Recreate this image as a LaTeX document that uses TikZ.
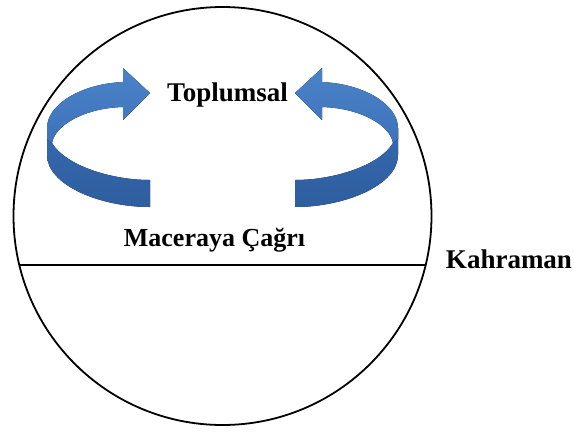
\documentclass[tikz,border=0pt]{standalone}
\usepackage{fontspec}
\setmainfont{Liberation Serif}
\begin{document}
\begin{tikzpicture}[x=1pt,y=-1pt,
  label/.style={font=\bfseries\fontsize{27}{30}\selectfont, inner sep=0pt, anchor=base, text=black},
  rim/.style={draw=black, line width=1.8pt}]
\definecolor{bandhi}{HTML}{4A82C8}
\definecolor{bandmid}{HTML}{3D73BA}
\definecolor{bandlo}{HTML}{3568AE}
\definecolor{banddk}{HTML}{2E5E9F}
\useasboundingbox (0,0) rectangle (574,432);

% outer circle and the chord across it
\node[circle, rim, minimum size=418pt, inner sep=0pt] (ring) at (222.5,216) {};
\coordinate (chordL) at (19.3,265);
\coordinate (chordR) at (425.7,265);
\draw[rim] (chordL) -- (chordR);

% curved ribbon arrow (left); the right one is its mirror image
\newcommand{\ribbonarrow}{%
  % lower (back) band
  \fill[top color=bandlo, bottom color=banddk]
    (47,128) -- (47,155)
    .. controls (47,185) and (100,207) .. (150,207)
    -- (150,180)
    .. controls (110,180) and (65,165) .. (52,143)
    -- (47,128) -- cycle;
  % upper (front) band with the head
  \fill[top color=bandhi, bottom color=bandmid]
    (150,93) -- (123,68) -- (123,82)
    .. controls (80,84) and (47,105) .. (47,128)
    -- (47,139) -- (52,143)
    .. controls (55,125) and (85,108) .. (123,107)
    -- (123,120) -- cycle;
}
\begin{scope}
  \ribbonarrow
\end{scope}
\begin{scope}[shift={(445,0)}, xscale=-1]
  \ribbonarrow
\end{scope}

% labels
\node[label] (top) at (227.5,101) {Toplumsal};
\node[label, font=\bfseries\fontsize{26}{29}\selectfont] (call) at (214.5,246.5) {Maceraya Çağrı};
\node[label] (hero) at (509,268) {Kahraman};
\end{tikzpicture}
\end{document}
